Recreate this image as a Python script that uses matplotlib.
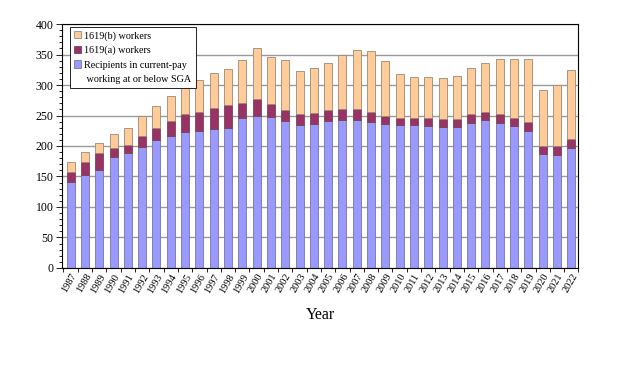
import numpy as np
import matplotlib
matplotlib.use("Agg")
import matplotlib.pyplot as plt
from matplotlib.patches import Patch
from matplotlib.ticker import MultipleLocator

years = [str(y) for y in range(1987, 2023)]

# recipients in current-pay working at or below SGA (thousands)
recipients = [141.5, 152.4, 160.5, 182.3, 187.8, 198.6, 209.5, 216.6, 223.1, 224.8,
              228.0, 229.7, 246.0, 249.3, 247.6, 241.0, 234.6, 235.6, 241.0, 242.7,
              242.7, 239.5, 236.2, 234.6, 234.6, 233.0, 231.3, 231.3, 237.8, 242.7,
              237.8, 233.0, 224.8, 187.2, 185.6, 197.0]
# 1619(a) workers
a_workers = [15.2, 20.6, 27.3, 13.7, 14.6, 18.0, 20.7, 25.0, 28.9, 31.0,
             34.9, 37.5, 25.0, 27.7, 21.8, 18.0, 18.4, 18.5, 17.5, 17.3,
             17.3, 16.3, 12.5, 11.4, 11.9, 13.5, 13.1, 13.7, 14.2, 13.1,
             15.2, 13.5, 15.2, 12.0, 13.6, 14.7]
# 1619(b) workers
b_workers = [16.3, 16.4, 17.9, 24.4, 27.8, 33.2, 35.8, 40.8, 47.9, 52.8,
             57.6, 59.3, 70.2, 83.8, 76.6, 82.2, 70.3, 74.1, 77.8, 90.0,
             97.6, 100.2, 90.9, 72.4, 67.0, 67.0, 67.4, 70.0, 76.2, 80.5,
             89.9, 96.4, 102.9, 93.0, 100.1, 113.3]

plt.rcParams['font.family'] = ['Liberation Serif', 'DejaVu Serif']

fig = plt.figure(figsize=(6.24, 3.65), dpi=100)
ax = fig.add_axes([0.099, 0.266, 0.828, 0.668])

x = np.arange(len(years))
rec = np.array(recipients)
a = np.array(a_workers)
b = np.array(b_workers)
w = 0.56

h_rec = ax.bar(x, rec, w, color='#9999FF', edgecolor='#77779a', linewidth=0.6, zorder=2)
h_a = ax.bar(x, a, w, bottom=rec, color='#993366', edgecolor='#774455', linewidth=0.6, zorder=2)
h_b = ax.bar(x, b, w, bottom=rec + a, color='#FFCC99', edgecolor='#9a8877', linewidth=0.6, zorder=2)

ax.set_ylim(0, 400)
ax.set_xlim(-0.62, len(years) - 0.5)
ax.yaxis.set_major_locator(MultipleLocator(50))
ax.yaxis.set_minor_locator(MultipleLocator(10))
ax.grid(axis='y', which='major', color='#9a9a9a', linewidth=1.0, zorder=0)
ax.set_axisbelow(True)

ax.set_xticks(x)
ax.set_xticklabels(years, rotation=60, ha='right', rotation_mode='anchor', fontsize=7.5)
ax.set_xticks(np.arange(-0.5, len(years), 1), minor=True)
ax.tick_params(axis='x', which='major', length=0, pad=3)
ax.tick_params(axis='x', which='minor', length=3, width=0.6)
ax.tick_params(axis='y', which='major', length=4, width=0.6, labelsize=8.5, pad=2)
ax.tick_params(axis='y', which='minor', length=2, width=0.6)
for s in ax.spines.values():
    s.set_linewidth(0.8)
    s.set_color('black')

ax.set_xlabel('Year', fontsize=11.5, labelpad=9)

# second line of the last legend entry as its own row so the swatch sits on the first line
blank = Patch(facecolor='none', edgecolor='none')
leg = ax.legend([h_b, h_a, h_rec, blank],
                ['1619(b) workers', '1619(a) workers',
                 'Recipients in current-pay', ' working at or below SGA'],
                loc='upper left', bbox_to_anchor=(0.016, 0.988), borderaxespad=0,
                fontsize=7.3, frameon=True, fancybox=False, edgecolor='black',
                framealpha=1, handlelength=0.7, handleheight=0.7, handletextpad=0.3,
                labelspacing=0.5, borderpad=0.4)
leg.get_frame().set_linewidth(0.6)

fig.savefig('out.png', dpi=100)
